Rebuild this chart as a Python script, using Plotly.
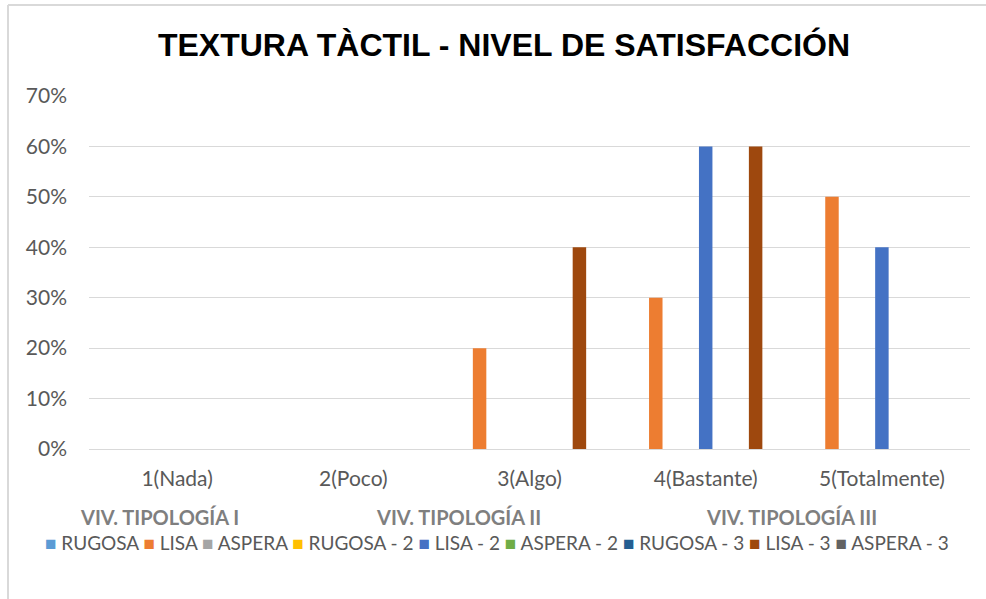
import plotly.graph_objects as go

categories = ["1(Nada)", "2(Poco)", "3(Algo)", "4(Bastante)", "5(Totalmente)"]
series_names = ["RUGOSA", "LISA", "ASPERA", "RUGOSA - 2", "LISA - 2", "ASPERA - 2",
                "RUGOSA - 3", "LISA - 3", "ASPERA - 3"]
rugosa = [0, 0, 0, 0, 0]
lisa = [0, 0, 0.20, 0.30, 0.50]
aspera = [0, 0, 0, 0, 0]
rugosa_2 = [0, 0, 0, 0, 0]
lisa_2 = [0, 0, 0, 0.60, 0.40]
aspera_2 = [0, 0, 0, 0, 0]
rugosa_3 = [0, 0, 0, 0, 0]
lisa_3 = [0, 0, 0.40, 0.60, 0]
aspera_3 = [0, 0, 0, 0, 0]
group_labels = ["VIV. TIPOLOGÍA I", "VIV. TIPOLOGÍA II", "VIV. TIPOLOGÍA III"]

series_values = [rugosa, lisa, aspera, rugosa_2, lisa_2, aspera_2, rugosa_3, lisa_3, aspera_3]
colors = ["#5B9BD5", "#ED7D31", "#A5A5A5", "#FFC000", "#4472C4", "#70AD47",
          "#255E91", "#9E480E", "#636363"]

FONT = "Lato, Liberation Sans, Arial, sans-serif"
L, R, T, B = 89, 16, 96, 150
W, H = 986, 599
PW, PH = W - L - R, H - T - B


def px_x(x):
    return (x - L) / PW


def px_y(y):
    return (H - B - y) / PH


fig = go.Figure()
for name, vals, col in zip(series_names, series_values, colors):
    fig.add_trace(go.Bar(x=categories, y=vals, name=name, marker_color=col,
                         marker_line_width=0, showlegend=False))

fig.update_layout(
    width=W, height=H,
    paper_bgcolor="white", plot_bgcolor="white",
    margin=dict(l=L, r=R, t=T, b=B, autoexpand=False),
    barmode="group", bargap=0.15, bargroupgap=0.19,
    title=dict(text="<b>TEXTURA TÀCTIL - NIVEL DE SATISFACCIÓN</b>",
               x=504 / W, xref="container", xanchor="center", y=1 - 45 / H, yanchor="middle",
               font=dict(family="Liberation Sans, Arial, sans-serif", size=32, color="black")),
    font=dict(family=FONT, color="#595959"),
    showlegend=False,
)
fig.update_xaxes(showgrid=False, showline=False, ticks="", tickfont=dict(size=21, color="#595959"),
                 ticklabelstandoff=15)
fig.update_yaxes(range=[0, 0.7], dtick=0.1, tickformat=".0%", showgrid=True,
                 gridcolor="#D9D9D9", gridwidth=1, zeroline=True, zerolinecolor="#D9D9D9",
                 zerolinewidth=1, tickfont=dict(size=21, color="#595959"), ticklabelstandoff=21)

gx = [159, 458, 791]
for lbl, px in zip(group_labels, gx):
    fig.add_annotation(text="<b>" + lbl + "</b>", xref="paper", yref="paper",
                       x=px_x(px), y=px_y(517), xanchor="center", yanchor="middle",
                       showarrow=False, font=dict(family=FONT, size=20, color="#7F7F7F"))

# legend row built from series names and colours
legend_text = " ".join(
    "<span style='color:%s'>■</span> %s" % (c, n) for n, c in zip(series_names, colors))
fig.add_annotation(text=legend_text, xref="paper", yref="paper",
                   x=px_x(497), y=px_y(542), xanchor="center", yanchor="middle",
                   showarrow=False, font=dict(family=FONT, size=19, color="#595959"))

# chart border (left and top)
fig.add_shape(type="line", xref="paper", yref="paper", x0=px_x(8), x1=px_x(8),
              y0=px_y(599), y1=px_y(5), line=dict(color="#D9D9D9", width=2))
fig.add_shape(type="line", xref="paper", yref="paper", x0=px_x(8), x1=px_x(986),
              y0=px_y(5), y1=px_y(5), line=dict(color="#D9D9D9", width=2))

fig.write_html("out.html", post_script="document.body.style.margin='0';",
               config={"displayModeBar": False})
